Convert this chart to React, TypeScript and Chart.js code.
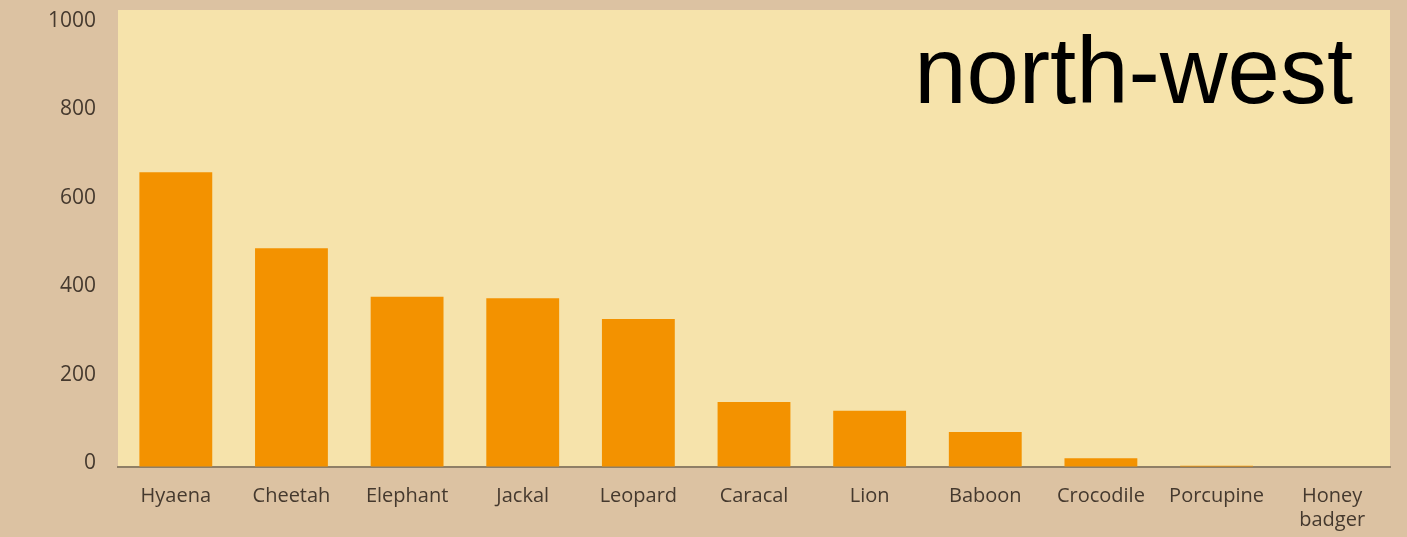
import React, { useEffect, useRef } from "react";
import { Chart, registerables } from "chart.js";

Chart.register(...registerables);

const categories: (string | string[])[] = [
  "Hyaena", "Cheetah", "Elephant", "Jackal", "Leopard", "Caracal",
  "Lion", "Baboon", "Crocodile", "Porcupine", ["Honey", "badger"],
];
const counts: number[] = [667, 495, 385, 382, 335, 147, 127, 79, 20, 3, 1];
const yTicks: number[] = [0, 200, 400, 600, 800, 1000];
const titleText = "north-west";

const BG = "#dcc2a2";
const PLOT_BG = "#f6e3ab";
const BAR = "#f39200";
const TEXT = "#45392e";

const backgroundPlugin = {
  id: "bgPlugin",
  beforeDraw(chart: any) {
    const { ctx, chartArea, width, height } = chart;
    ctx.save();
    ctx.fillStyle = BG;
    ctx.fillRect(0, 0, width, height);
    ctx.fillStyle = PLOT_BG;
    ctx.fillRect(chartArea.left, chartArea.top - 15, chartArea.right - chartArea.left, chartArea.bottom - chartArea.top + 15);
    ctx.restore();
  },
  afterDraw(chart: any) {
    const { ctx, chartArea } = chart;
    ctx.save();
    ctx.fillStyle = "#000000";
    ctx.font = '94px "Liberation Sans", Arial, sans-serif';
    ctx.textAlign = "right";
    ctx.textBaseline = "alphabetic";
    ctx.fillText(titleText, chartArea.right - 37, 103);
    ctx.restore();
  },
};

export default function App() {
  const ref = useRef<HTMLCanvasElement | null>(null);

  useEffect(() => {
    if (!ref.current) return;
    const chart = new Chart(ref.current, {
      type: "bar",
      data: {
        labels: categories,
        datasets: [
          {
            data: counts,
            backgroundColor: BAR,
            borderWidth: 0,
            barPercentage: 0.63,
            categoryPercentage: 1,
          },
        ],
      },
      options: {
        animation: false,
        responsive: false,
        maintainAspectRatio: false,
        devicePixelRatio: 1,
        layout: { padding: { top: 25, right: 17, left: 0, bottom: 0 } },
        plugins: {
          legend: { display: false },
          tooltip: { enabled: false },
          title: { display: false },
        },
        scales: {
          x: {
            grid: { display: false, drawTicks: false },
            border: { display: true, color: "#8f7f66", width: 2 },
            ticks: {
              color: TEXT,
              font: { family: '"Open Sans", sans-serif', size: 20 },
              padding: 17,
              maxRotation: 0,
              autoSkip: false,
            },
            afterFit: (s: any) => { s.height = 70; },
          },
          y: {
            min: 0,
            max: 1000,
            afterBuildTicks: (s: any) => { s.ticks = yTicks.map((v) => ({ value: v })); },
            grid: {
              display: true,
              drawOnChartArea: false,
              drawTicks: true,
              tickLength: 22,
              color: "rgba(0,0,0,0)",
            },
            border: { display: false },
            ticks: {
              color: TEXT,
              font: { family: '"Open Sans", sans-serif', size: 21 },
              padding: 0,
              labelOffset: -4,
              callback: (v: any) => String(v),
            },
            afterFit: (s: any) => { s.width = 118; },
          },
        },
      },
      plugins: [backgroundPlugin],
    });
    return () => chart.destroy();
  }, []);

  return (
    <div style={{ position: "fixed", left: 0, top: 0, width: 1407, height: 537, background: BG }}>
      <canvas ref={ref} width={1407} height={537} style={{ display: "block", width: 1407, height: 537 }} />
    </div>
  );
}
